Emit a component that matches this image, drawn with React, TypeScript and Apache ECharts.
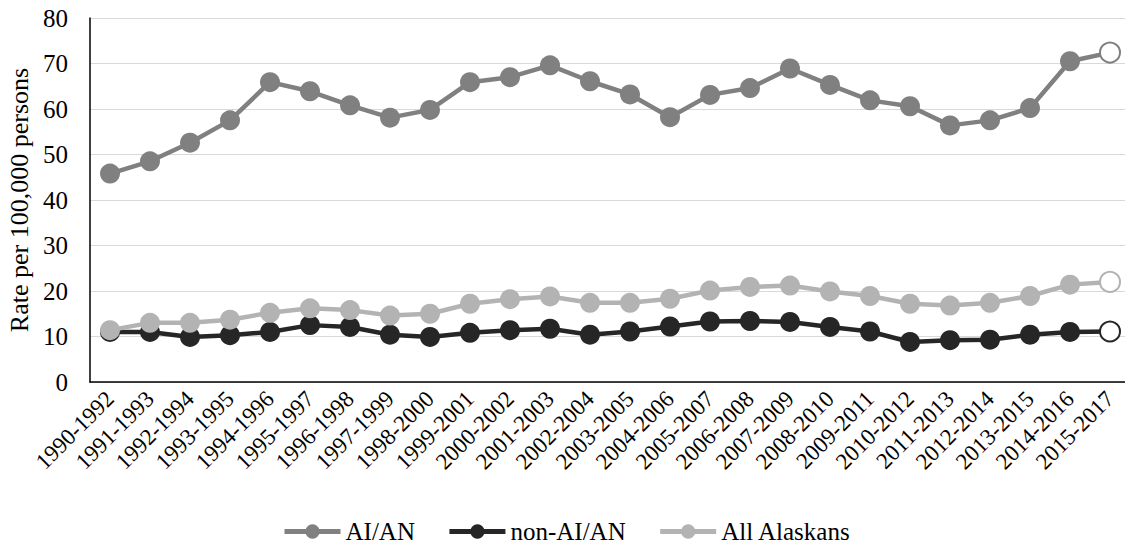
import React, { useEffect, useRef } from "react";
import * as echarts from "echarts";

const categories = [
  "1990-1992", "1991-1993", "1992-1994", "1993-1995", "1994-1996", "1995-1997",
  "1996-1998", "1997-1999", "1998-2000", "1999-2001", "2000-2002", "2001-2003",
  "2002-2004", "2003-2005", "2004-2006", "2005-2007", "2006-2008", "2007-2009",
  "2008-2010", "2009-2011", "2010-2012", "2011-2013", "2012-2014", "2013-2015",
  "2014-2016", "2015-2017",
];

const aian = [
  45.8, 48.5, 52.6, 57.5, 65.9, 63.9, 60.8, 58.1, 59.8, 65.9, 67.0, 69.6, 66.1,
  63.2, 58.2, 63.1, 64.6, 68.9, 65.3, 61.9, 60.6, 56.4, 57.5, 60.2, 70.5, 72.4,
];

const nonAian = [
  11.0, 11.0, 9.9, 10.3, 11.0, 12.5, 12.1, 10.4, 9.9, 10.8, 11.4, 11.7, 10.4,
  11.1, 12.2, 13.3, 13.4, 13.2, 12.1, 11.1, 8.8, 9.2, 9.3, 10.4, 11.0, 11.1,
];

const allAlaskans = [
  11.4, 13.0, 13.0, 13.7, 15.2, 16.2, 15.8, 14.6, 15.0, 17.2, 18.2, 18.8, 17.4,
  17.4, 18.3, 20.1, 20.9, 21.2, 19.9, 18.9, 17.2, 16.8, 17.4, 18.9, 21.4, 22.0,
];

const seriesNames = ["AI/AN", "non-AI/AN", "All Alaskans"];
const seriesColors = ["#808080", "#262626", "#b3b3b3"];

const FONT = "'Liberation Serif', 'Times New Roman', serif";

function withHollowLast(values: number[], color: string) {
  return values.map((v, i) =>
    i === values.length - 1
      ? {
          value: v,
          itemStyle: { color: "#ffffff", borderColor: color, borderWidth: 2 },
        }
      : v
  );
}

export default function App() {
  const ref = useRef<HTMLDivElement>(null);

  useEffect(() => {
    document.body.style.margin = "0";
    if (!ref.current) return;
    const chart = echarts.init(ref.current, undefined, { renderer: "svg" });
    const allData = [aian, nonAian, allAlaskans];
    chart.setOption({
      animation: false,
      backgroundColor: "#ffffff",
      textStyle: { fontFamily: FONT },
      grid: {
        left: 90,
        top: 18,
        width: 1040,
        height: 364,
        containLabel: false,
        outerBoundsMode: "none",
      },
      legend: {
        top: 519,
        left: 282,
        padding: 0,
        itemWidth: 56,
        itemHeight: 18,
        itemGap: 32,
        lineStyle: { width: 5 },
        textStyle: {
          fontFamily: FONT,
          fontSize: 25,
          lineHeight: 22,
          color: "#000",
        },
        data: seriesNames,
      },
      xAxis: {
        type: "category",
        data: categories,
        boundaryGap: true,
        axisLine: { lineStyle: { color: "#000", width: 1.5 } },
        axisTick: { show: false },
        axisLabel: {
          rotate: 45,
          interval: 0,
          margin: 13,
          fontFamily: FONT,
          fontSize: 23,
          color: "#000",
        },
      },
      yAxis: {
        type: "value",
        min: 0,
        max: 80,
        interval: 10,
        name: "Rate per 100,000 persons",
        nameLocation: "middle",
        nameGap: 58,
        nameTextStyle: { fontFamily: FONT, fontSize: 26, color: "#000" },
        axisLine: { show: true, lineStyle: { color: "#000", width: 1.5 } },
        axisTick: { show: false },
        axisLabel: { margin: 22, fontFamily: FONT, fontSize: 25, color: "#000" },
        splitLine: { lineStyle: { color: "#d9d9d9", width: 1.2 } },
      },
      series: seriesNames.map((name, k) => ({
        name,
        type: "line",
        data: withHollowLast(allData[k], seriesColors[k]),
        symbol: "circle",
        symbolSize: 20,
        lineStyle: { color: seriesColors[k], width: 4.5 },
        itemStyle: { color: seriesColors[k] },
        z: 2 + k,
      })),
    });
    return () => chart.dispose();
  }, []);

  return (
    <div
      ref={ref}
      style={{ position: "absolute", left: 0, top: 0, width: 1125, height: 548 }}
    />
  );
}
